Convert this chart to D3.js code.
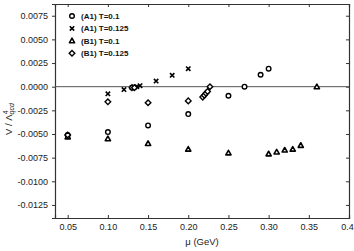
<!DOCTYPE html>
<html lang="en">
  <head>
    <meta charset="utf-8">
    <title>V / Lambda^4 vs mu</title>
    <style>
      body { margin: 0; background: #fff; }
      svg { display: block; font-family: "Liberation Sans", Arial, sans-serif; }
      .axis text { font-size: 9px; fill: #222; }
      .axis path, .axis line { stroke: #333; }
      .legend text { font-size: 8px; font-weight: bold; fill: #111; }
    </style>
  </head>
  <body>
    <script src="https://d3js.org/d3.v7.min.js"></script>
    <script>
      // data
      const muA1a = [0.05, 0.10, 0.15, 0.20, 0.25, 0.27, 0.29, 0.30];
      const vA1a  = [-0.0051, -0.0048, -0.0041, -0.0029, -0.00096, 0.0000, 0.00126, 0.0019];

      const muA1b = [0.05, 0.10, 0.12, 0.13, 0.133, 0.136, 0.14, 0.16, 0.18, 0.20];
      const vA1b  = [-0.0052, -0.00075, -0.0003, -0.0001, -0.00005, 0.0000, 0.0001, 0.0006, 0.0012, 0.0019];

      const muB1a = [0.05, 0.10, 0.15, 0.20, 0.25, 0.30, 0.31, 0.32, 0.33, 0.34, 0.36];
      const vB1a  = [-0.0053, -0.0055, -0.0060, -0.0066, -0.0070, -0.0071, -0.0069, -0.0067, -0.0066, -0.0062, 0.0000];

      const muB1b = [0.05, 0.10, 0.13, 0.133, 0.15, 0.20, 0.218, 0.220, 0.222, 0.224, 0.227];
      const vB1b  = [-0.0051, -0.0016, -0.0001, -0.0001, -0.0017, -0.0015, -0.0011, -0.0009, -0.0007, -0.0005, 0.0000];

      const legendLabels = ["(A1) T=0.1", "(A1) T=0.125", "(B1) T=0.1", "(B1) T=0.125"];
      const xTicks = [0.05, 0.10, 0.15, 0.20, 0.25, 0.30, 0.35, 0.4];
      const xTickLabels = ["0.05", "0.10", "0.15", "0.20", "0.25", "0.30", "0.35", "0.4"];
      const yTicks = [0.0075, 0.005, 0.0025, 0, -0.0025, -0.005, -0.0075, -0.01, -0.0125];

      const w = 354, h = 251;
      const padL = 55, padR = 349, padT = 4, padB = 218;

      const x = d3.scaleLinear().domain([0.0342, 0.4]).range([padL, padR]);
      const y = d3.scaleLinear().domain([-0.01388, 0.00874]).range([padB, padT]);

      const svg = d3.select("body").append("svg")
        .attr("width", w)
        .attr("height", h);

      const yFmt = d => d3.format(".4f")(d).replace("\u2212", "-");

      // axes
      svg.append("g")
        .attr("class", "axis")
        .attr("transform", `translate(${padL},0)`)
        .call(d3.axisLeft(y).tickValues(yTicks).tickFormat(yFmt).tickSize(3).tickPadding(4));

      const xAx = svg.append("g")
        .attr("class", "axis")
        .attr("transform", `translate(0,${padB})`)
        .call(d3.axisBottom(x).tickValues(xTicks).tickFormat((d, i) => xTickLabels[i]).tickSize(-3).tickPadding(6));
      // last label sits on the edge, nudge it in a bit
      xAx.selectAll(".tick text").filter(d => d === 0.4).attr("dx", "-2");

      svg.append("g")
        .attr("class", "axis")
        .attr("transform", `translate(0,${padT})`)
        .call(d3.axisTop(x).tickValues(xTicks).tickFormat("").tickSize(-3));

      svg.append("g")
        .attr("class", "axis")
        .attr("transform", `translate(${padR},0)`)
        .call(d3.axisRight(y).tickValues(yTicks).tickFormat("").tickSize(-3));

      svg.selectAll(".axis .domain").attr("stroke", "#111").attr("stroke-width", 1.2);

      // zero line
      svg.append("line")
        .attr("x1", padL).attr("x2", padR)
        .attr("y1", y(0)).attr("y2", y(0))
        .attr("stroke", "#555").attr("stroke-width", 1);

      // markers
      const sym = {
        circle: g => g.append("circle").attr("r", 2.3).attr("fill", "#fff").attr("stroke", "#000").attr("stroke-width", 1.4),
        cross: g => g.append("path").attr("d", "M-2.2,-2.2L2.2,2.2M-2.2,2.2L2.2,-2.2").attr("stroke", "#000").attr("stroke-width", 1.6),
        tri: g => g.append("path").attr("d", "M0,-2.6L2.6,2L-2.6,2Z").attr("fill", "#fff").attr("stroke", "#000").attr("stroke-width", 1.6).attr("stroke-linejoin", "round"),
        diamond: g => g.append("path").attr("d", "M0,-2.8L2.8,0L0,2.8L-2.8,0Z").attr("fill", "#fff").attr("stroke", "#000").attr("stroke-width", 1.4)
      };

      const series = [
        { mu: muA1a, v: vA1a, s: "circle" },
        { mu: muA1b, v: vA1b, s: "cross" },
        { mu: muB1a, v: vB1a, s: "tri" },
        { mu: muB1b, v: vB1b, s: "diamond" }
      ];

      series.forEach(ser => {
        ser.mu.forEach((m, i) => {
          const g = svg.append("g").attr("transform", `translate(${x(m)},${y(ser.v[i])})`);
          sym[ser.s](g);
        });
      });

      // legend
      const legend = svg.append("g").attr("class", "legend");
      legendLabels.forEach((lab, i) => {
        const ly = 16 + i * 12.4;
        const g = legend.append("g").attr("transform", `translate(72,${ly})`);
        sym[series[i].s](g);
        legend.append("text")
          .attr("x", 81).attr("y", ly).attr("dy", "0.35em")
          .text(lab);
      });

      // axis titles
      svg.append("text")
        .attr("x", (padL + padR) / 2).attr("y", 245)
        .attr("text-anchor", "middle")
        .attr("font-size", "9.5px").attr("fill", "#222")
        .text("\u03bc (GeV)");

      const yl = svg.append("text")
        .attr("transform", "translate(12,119) rotate(-90)")
        .attr("text-anchor", "middle")
        .attr("font-size", "9.5px").attr("fill", "#222");
      yl.append("tspan").text("V / \u039b");
      yl.append("tspan").attr("dy", "-4").attr("font-size", "7px").text("4");
      yl.append("tspan").attr("dy", "6").attr("dx", "-4").attr("font-size", "7px").attr("font-style", "italic").text("qcd");
    </script>
  </body>
</html>
